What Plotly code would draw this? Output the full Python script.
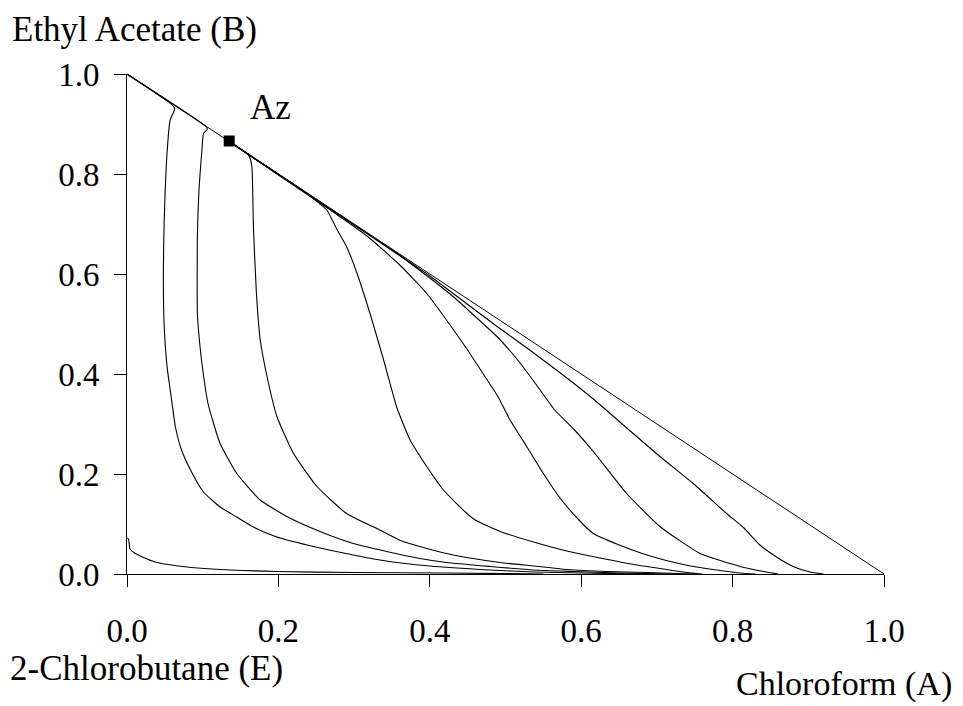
import plotly.graph_objects as go

# Residue curve map: Chloroform (A) / Ethyl Acetate (B) / 2-Chlorobutane (E)
# mole fractions: x = chloroform, y = ethyl acetate

diag_x = [0.0, 1.0]
diag_y = [1.0, 0.0]

az_x = [0.135]
az_y = [0.866]

c1_x = [0.0, 0.002, 0.004, 0.01, 0.022, 0.037, 0.063, 0.112, 0.198, 0.3, 0.42, 0.55]
c1_y = [0.072, 0.07, 0.05, 0.042, 0.033, 0.024, 0.017, 0.01, 0.005, 0.003, 0.002, 0.0]

c2_x = [0.0, 0.06, 0.063, 0.057, 0.053, 0.049, 0.048, 0.049, 0.053, 0.058, 0.064, 0.072,
        0.086, 0.101, 0.123, 0.145, 0.167, 0.198, 0.238, 0.286, 0.334, 0.40, 0.48, 0.537,
        0.6, 0.68]
c2_y = [1.0, 0.938, 0.93, 0.908, 0.844, 0.698, 0.6, 0.5, 0.414, 0.358, 0.294, 0.248,
        0.202, 0.164, 0.134, 0.114, 0.094, 0.074, 0.058, 0.042, 0.028, 0.016, 0.008, 0.004,
        0.002, 0.0]

c3_x = [0.0, 0.105, 0.106, 0.101, 0.099, 0.095, 0.093, 0.093, 0.096, 0.099, 0.107, 0.123,
        0.145, 0.176, 0.211, 0.255, 0.299, 0.343, 0.387, 0.422, 0.48, 0.537, 0.59, 0.65, 0.72]
c3_y = [1.0, 0.894, 0.889, 0.881, 0.848, 0.765, 0.675, 0.52, 0.462, 0.421, 0.341, 0.261,
        0.201, 0.148, 0.115, 0.085, 0.061, 0.045, 0.031, 0.023, 0.015, 0.008, 0.005, 0.002, 0.0]

c4_x = [0.135, 0.16, 0.162, 0.165, 0.167, 0.171, 0.176, 0.185, 0.198, 0.220, 0.251,
        0.290, 0.334, 0.361, 0.396, 0.422, 0.457, 0.493, 0.537, 0.581, 0.634, 0.687, 0.75]
c4_y = [0.865, 0.839, 0.834, 0.815, 0.695, 0.56, 0.468, 0.395, 0.315, 0.241, 0.175,
        0.121, 0.088, 0.067, 0.051, 0.041, 0.031, 0.023, 0.016, 0.009, 0.005, 0.003, 0.0]

c5_x = [0.135, 0.2, 0.24, 0.251, 0.264, 0.277, 0.29, 0.303, 0.321, 0.339, 0.356, 0.362,
        0.374, 0.396, 0.418, 0.449, 0.46, 0.493, 0.537, 0.581, 0.625, 0.669, 0.713, 0.74, 0.76]
c5_y = [0.865, 0.799, 0.758, 0.745, 0.728, 0.69, 0.655, 0.605, 0.521, 0.428, 0.335, 0.311,
        0.268, 0.215, 0.168, 0.121, 0.108, 0.085, 0.064, 0.046, 0.032, 0.019, 0.009, 0.003, 0.0]

c6_x = [0.135, 0.2, 0.26, 0.317, 0.361, 0.396, 0.422, 0.449, 0.475, 0.49, 0.506, 0.528,
        0.55, 0.572, 0.597, 0.616, 0.647, 0.691, 0.735, 0.779, 0.81, 0.83]
c6_y = [0.865, 0.798, 0.737, 0.676, 0.617, 0.561, 0.508, 0.45, 0.39, 0.355, 0.308, 0.255,
        0.201, 0.152, 0.108, 0.081, 0.06, 0.036, 0.019, 0.008, 0.002, 0.0]

c7_x = [0.135, 0.25, 0.36, 0.40, 0.43, 0.46, 0.49, 0.515, 0.541, 0.565, 0.590, 0.616,
        0.660, 0.704, 0.757, 0.81, 0.841, 0.86]
c7_y = [0.865, 0.749, 0.637, 0.592, 0.556, 0.515, 0.473, 0.43, 0.378, 0.328, 0.29, 0.245,
        0.161, 0.095, 0.041, 0.015, 0.005, 0.0]

c8_x = [0.135, 0.25, 0.35, 0.40, 0.444, 0.488, 0.532, 0.576, 0.616, 0.658, 0.704, 0.748,
        0.792, 0.815, 0.836, 0.86, 0.880, 0.902, 0.92]
c8_y = [0.865, 0.749, 0.648, 0.596, 0.546, 0.496, 0.448, 0.398, 0.35, 0.295, 0.235, 0.181,
        0.121, 0.092, 0.058, 0.032, 0.015, 0.004, 0.0]

tick_vals = [0.0, 0.2, 0.4, 0.6, 0.8, 1.0]
tick_text = ["0.0", "0.2", "0.4", "0.6", "0.8", "1.0"]

FONT = "Liberation Serif"

fig = go.Figure()

# triangle hypotenuse (A-B edge)
fig.add_trace(go.Scatter(x=diag_x, y=diag_y, mode="lines",
                         line=dict(color="black", width=1), hoverinfo="skip"))

curves = [(c1_x, c1_y), (c2_x, c2_y), (c3_x, c3_y), (c4_x, c4_y),
          (c5_x, c5_y), (c6_x, c6_y), (c7_x, c7_y), (c8_x, c8_y)]
for cx, cy in curves:
    fig.add_trace(go.Scatter(x=cx, y=cy, mode="lines",
                             line=dict(color="black", width=1.1, shape="spline", smoothing=0.5)))

# azeotrope
fig.add_trace(go.Scatter(x=az_x, y=az_y, mode="markers",
                         marker=dict(symbol="square", size=11, color="black"),
                         cliponaxis=False))

axis_common = dict(
    range=[0, 1], tickvals=tick_vals, ticktext=tick_text,
    showgrid=False, zeroline=False, showline=True, linecolor="black", linewidth=1,
    ticks="outside", ticklen=12, tickwidth=1, tickcolor="black",
    tickfont=dict(family=FONT, size=33, color="black"),
)

fig.update_xaxes(**axis_common, ticklabelstandoff=15)
fig.update_yaxes(**axis_common, ticklabelstandoff=8)

annotations = [
    dict(text="Ethyl Acetate (B)", x=10, y=30, xanchor="left", yanchor="middle", size=35),
    dict(text="2-Chlorobutane (E)", x=8, y=668, xanchor="left", yanchor="middle", size=35),
    dict(text="Chloroform (A)", x=954, y=684, xanchor="right", yanchor="middle", size=34),
    dict(text="Az", x=270, y=108, xanchor="center", yanchor="middle", size=35),
]
W, H = 963, 706
for a in annotations:
    fig.add_annotation(text=a["text"], xref="paper", yref="paper",
                       x=(a["x"] - 127) / 757, y=(574 - a["y"]) / 500,
                       xanchor=a["xanchor"], yanchor=a["yanchor"], showarrow=False,
                       font=dict(family=FONT, size=a["size"], color="black"))

fig.update_layout(
    width=W, height=H,
    margin=dict(l=127, r=W - 884, t=74, b=H - 574),
    paper_bgcolor="white", plot_bgcolor="white",
    showlegend=False,
)

fig.write_html("out.html")
